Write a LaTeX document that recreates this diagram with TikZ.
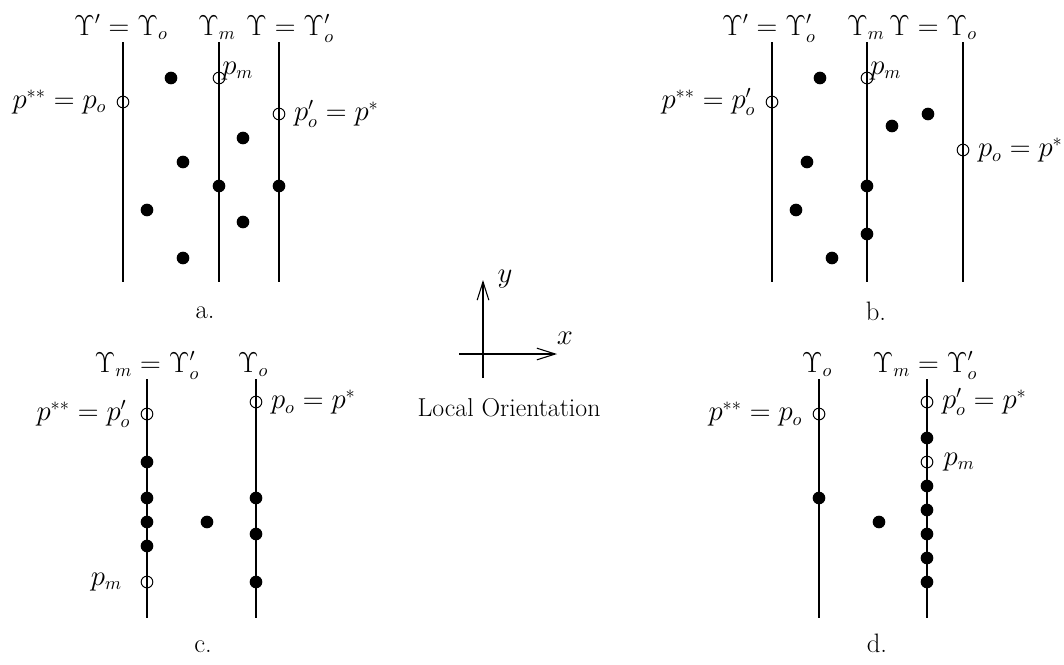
\documentclass[tikz,border=0pt]{standalone}
\usetikzlibrary{arrows.meta, positioning}

\begin{document}
\begin{tikzpicture}[x=0.6pt, y=-0.6pt,
  line style/.style={line width=0.65pt},
  dot style/.style={circle, fill=black, inner sep=0pt, minimum size=7.6pt},
  open style/.style={circle, draw=black, line width=0.6pt, inner sep=0pt, minimum size=7pt},
  tag style/.style={font=\fontsize{16}{19}\selectfont, inner sep=0pt},
  caption style/.style={font=\fontsize{16}{19}\selectfont, anchor=base},
  axis style/.style={line width=0.65pt, -{Straight Barb[length=11pt, width=7pt]}}]

    \useasboundingbox (0,0) rectangle (1064,664);

    % =====================================================================
    % a.
    % =====================================================================
    \coordinate (a1t) at (123,42);  \coordinate (a1b) at (123,282);
    \coordinate (a2t) at (219,42);  \coordinate (a2b) at (219,282);
    \coordinate (a3t) at (279,42);  \coordinate (a3b) at (279,282);
    \draw[line style] (a1t) -- (a1b);
    \draw[line style] (a2t) -- (a2b);
    \draw[line style] (a3t) -- (a3b);

    \node[tag style, anchor=base] (ta1) at (121,35) {$\Upsilon' = \Upsilon_o$};
    \node[tag style, anchor=base] (ta2) at (217,35) {$\Upsilon_m$};
    \node[tag style, anchor=base] (ta3) at (290,35) {$\Upsilon = \Upsilon'_o$};

    \node[open style] (aop) at (123,102) {};
    \node[open style] (apm) at (219,78) {};
    \node[open style] (aoq) at (279,114) {};
    \node[tag style, left=6pt of aop] (laop) {$p^{**} = p_o$};
    \node[tag style, anchor=south west] (lapm) at (222,80) {$p_m$};
    \node[tag style, right=5pt of aoq] (laoq) {$p'_o = p^*$};

    \foreach \p [count=\i] in {(171,78), (243,138), (183,162), (219,186),
                               (279,186), (147,210), (243,222), (183,258)}
        \node[dot style] (ad\i) at \p {};

    \node[caption style] (capa) at (205,318) {a.};

    % =====================================================================
    % b.
    % =====================================================================
    \coordinate (b1t) at (772,42);  \coordinate (b1b) at (772,282);
    \coordinate (b2t) at (867,42);  \coordinate (b2b) at (867,282);
    \coordinate (b3t) at (963,42);  \coordinate (b3b) at (963,282);
    \draw[line style] (b1t) -- (b1b);
    \draw[line style] (b2t) -- (b2b);
    \draw[line style] (b3t) -- (b3b);

    \node[tag style, anchor=base] (tb1) at (769,35) {$\Upsilon' = \Upsilon'_o$};
    \node[tag style, anchor=base] (tb2) at (866,35) {$\Upsilon_m$};
    \node[tag style, anchor=base] (tb3) at (933,35) {$\Upsilon = \Upsilon_o$};

    \node[open style] (bop) at (772,102) {};
    \node[open style] (bpm) at (867,78) {};
    \node[open style] (boq) at (963,150) {};
    \node[tag style, left=6pt of bop] (lbop) {$p^{**} = p'_o$};
    \node[tag style, anchor=south west] (lbpm) at (870,80) {$p_m$};
    \node[tag style, right=5pt of boq] (lboq) {$p_o = p^*$};

    \foreach \p [count=\i] in {(820,78), (928,114), (892,126), (807,162),
                               (867,186), (796,210), (867,234), (832,258)}
        \node[dot style] (bd\i) at \p {};

    \node[caption style] (capb) at (876,320) {b.};

    % =====================================================================
    % c.
    % =====================================================================
    \coordinate (c1t) at (147,379); \coordinate (c1b) at (147,618);
    \coordinate (c2t) at (256,379); \coordinate (c2b) at (256,618);
    \draw[line style] (c1t) -- (c1b);
    \draw[line style] (c2t) -- (c2b);

    \node[tag style, anchor=base] (tc1) at (147,372) {$\Upsilon_m = \Upsilon'_o$};
    \node[tag style, anchor=base] (tc2) at (253,372) {$\Upsilon_o$};

    \node[open style] (cop) at (147,414) {};
    \node[open style] (coq) at (256,402) {};
    \node[open style] (cpm) at (147,582) {};
    \node[tag style, left=6pt of cop] (lcop) {$p^{**} = p'_o$};
    \node[tag style, right=5pt of coq] (lcoq) {$p_o = p^*$};
    \node[tag style, left=11pt of cpm] (lcpm) {$p_m$};

    \foreach \p [count=\i] in {(147,462), (147,498), (147,522), (147,546),
                               (207,522), (256,498), (256,534), (256,582)}
        \node[dot style] (cd\i) at \p {};

    \node[caption style] (capc) at (203,652) {c.};

    % =====================================================================
    % d.
    % =====================================================================
    \coordinate (d1t) at (819,379); \coordinate (d1b) at (819,618);
    \coordinate (d2t) at (927,379); \coordinate (d2b) at (927,618);
    \draw[line style] (d1t) -- (d1b);
    \draw[line style] (d2t) -- (d2b);

    \node[tag style, anchor=base] (td1) at (817,372) {$\Upsilon_o$};
    \node[tag style, anchor=base] (td2) at (925,372) {$\Upsilon_m = \Upsilon'_o$};

    \node[open style] (dop) at (819,414) {};
    \node[open style] (doq) at (927,402) {};
    \node[open style] (dpm) at (927,462) {};
    \node[tag style, left=6pt of dop] (ldop) {$p^{**} = p_o$};
    \node[tag style, right=5pt of doq] (ldoq) {$p'_o = p^*$};
    \node[tag style, right=6pt of dpm] (ldpm) {$p_m$};

    \foreach \p [count=\i] in {(819,498), (879,522), (927,438), (927,486),
                               (927,510), (927,534), (927,558), (927,582)}
        \node[dot style] (dd\i) at \p {};

    \node[caption style] (capd) at (877,652) {d.};

    % =====================================================================
    % Local Orientation
    % =====================================================================
    \coordinate (xst) at (459,354); \coordinate (xend) at (557,354);
    \coordinate (yst) at (483,378); \coordinate (yend) at (483,280);
    \draw[axis style] (xst) -- (xend);
    \draw[axis style] (yst) -- (yend);
    \node[tag style] (xlab) at (565,338) {$x$};
    \node[tag style] (ylab) at (505,279) {$y$};
    \node[font=\fontsize{15.5}{18}\selectfont, anchor=base] (orient) at (509,416) {Local Orientation};

\end{tikzpicture}
\end{document}
